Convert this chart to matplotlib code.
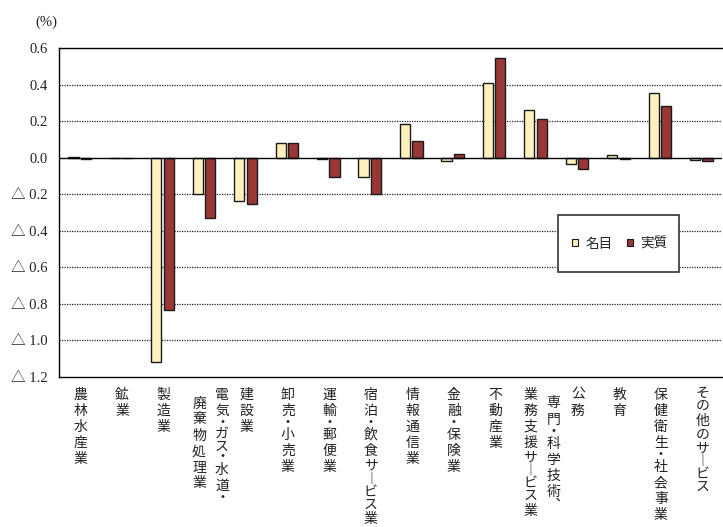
import matplotlib
matplotlib.use("Agg")
import matplotlib.pyplot as plt
from matplotlib.patches import Patch, Rectangle
from matplotlib.ticker import FuncFormatter
import numpy as np
import unicodedata

plt.rcParams['font.family'] = ['Noto Sans CJK JP', 'DejaVu Sans']

categories = [
    "農林水産業", "鉱業", "製造業", "電気・ガス・水道・\n廃棄物処理業", "建設業",
    "卸売・小売業", "運輸・郵便業", "宿泊・飲食サービス業", "情報通信業", "金融・保険業",
    "不動産業", "専門・科学技術、\n業務支援サービス業", "公務", "教育",
    "保健衛生・社会事業", "その他のサービス",
]
nominal = [0.005, -0.004, -1.118, -0.198, -0.235, 0.082, -0.005, -0.104, 0.185, -0.020,
           0.407, 0.262, -0.033, 0.015, 0.353, -0.013]
real = [-0.005, -0.004, -0.835, -0.331, -0.256, 0.082, -0.104, -0.198, 0.091, 0.020,
        0.544, 0.213, -0.062, -0.005, 0.284, -0.020]
series_names = ["名目", "実質"]
yticks = [0.6, 0.4, 0.2, 0.0, -0.2, -0.4, -0.6, -0.8, -1.0, -1.2]

c_nom = "#FFF0BE"
c_real = "#993737"
txt_c = "#222222"

fig = plt.figure(figsize=(7.23, 5.27), dpi=100)
ax = fig.add_axes([59 / 723, 1 - 377 / 527, 663 / 723, 329 / 527])

x = np.arange(len(categories))
w = 0.245
ax.bar(x - 0.15, nominal, w, color=c_nom, edgecolor="#1a1a1a", linewidth=1.0, zorder=3)
ax.bar(x + 0.15, real, w, color=c_real, edgecolor="#1a1a1a", linewidth=1.0, zorder=3)

ax.set_xlim(-0.5, len(categories) - 0.5)
ax.set_ylim(-1.2, 0.6)
ax.set_yticks(yticks)
ax.yaxis.set_major_formatter(FuncFormatter(
    lambda v, p: f"△ {abs(v):.1f}" if v < -1e-9 else f"{v:.1f}"))
ax.tick_params(axis='y', length=0, pad=8)
ax.set_xticks([])
for lab in ax.get_yticklabels():
    lab.set_fontfamily(['Liberation Serif', 'Noto Sans CJK JP'])
    lab.set_fontsize(10.5)
    lab.set_color(txt_c)

for v in yticks:
    if v not in (0.0, 0.6, -1.2):
        ax.axhline(v, color="#222222", linestyle=(0, (1, 1)), linewidth=0.9, zorder=1)
ax.axhline(0, color="black", linewidth=1.0, zorder=4)

for s in ["left", "top", "bottom"]:
    ax.spines[s].set_color("black")
    ax.spines[s].set_linewidth(1.0)
ax.spines["right"].set_visible(False)

ax.text(-13 / 663, 1.079, "(%)", transform=ax.transAxes, ha="center", va="center",
        fontsize=10.5, family=['Liberation Serif', 'Noto Sans CJK JP'], color=txt_c)

# vertical category labels (columns read right to left)
vmap = {"ー": "︱", "、": "︑"}


def advance(ch):
    if ch in "・、":
        return 8.5
    name = unicodedata.name(ch, "")
    if "HIRAGANA" in name or "KATAKANA" in name:
        return 13.0
    return 16.0


start = -9.5
for i, lab in enumerate(categories):
    cols = lab.split("\n")
    lens = [sum(advance(c) for c in col) for col in cols]
    xoffs = [1] if len(cols) == 1 else [18, -5]
    for ci, col in enumerate(cols):
        y = start - (0 if lens[ci] == max(lens) else 9)
        for ch in col:
            a = advance(ch)
            ax.annotate(vmap.get(ch, ch), xy=(i, 0), xycoords=('data', 'axes fraction'),
                        xytext=(xoffs[ci], y - a / 2),
                        textcoords='offset pixels', ha='center', va='center',
                        fontsize=10, color=txt_c, annotation_clip=False)
            y -= a

# legend
handles = [Patch(facecolor=c_nom, edgecolor="#1a1a1a", linewidth=0.8),
           Patch(facecolor=c_real, edgecolor="#1a1a1a", linewidth=0.8)]
leg = ax.legend(handles, series_names, loc="center",
                bbox_to_anchor=((620 - 59) / 663, (377 - 243.5) / 329),
                ncol=2, frameon=False, fontsize=9.8,
                handlelength=0.4, handleheight=0.4, handletextpad=0.55,
                columnspacing=1.1, borderpad=0.2)
leg.set_zorder(6)
for t in leg.get_texts():
    t.set_color(txt_c)
ax.add_patch(Rectangle(((558 - 59) / 663, (377 - 272) / 329), 121 / 663, 57 / 329,
                       transform=ax.transAxes, facecolor="white", edgecolor="#333333",
                       linewidth=1.2, zorder=5))

fig.savefig("out.png", dpi=100)
